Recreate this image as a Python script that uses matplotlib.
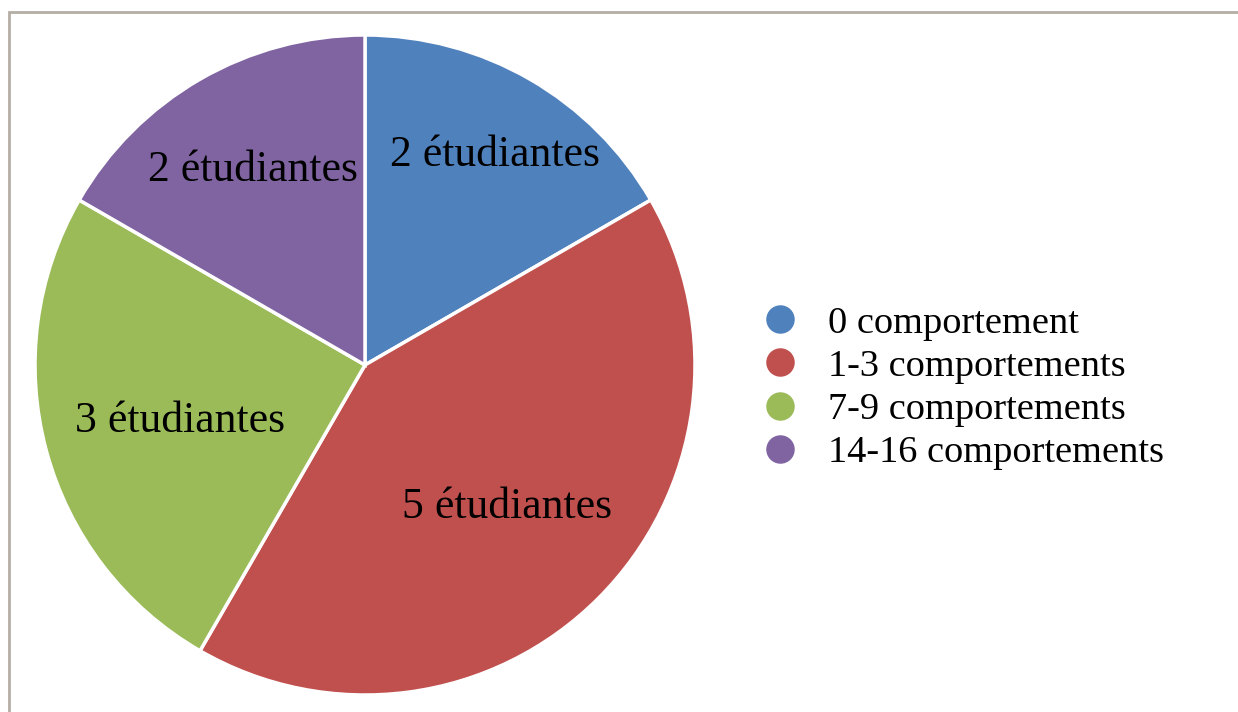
import matplotlib.pyplot as plt
from matplotlib.lines import Line2D
from matplotlib.patches import Rectangle

plt.rcParams['font.family'] = ['Liberation Serif', 'DejaVu Serif']

categories = ['0 comportement', '1-3 comportements', '7-9 comportements', '14-16 comportements']
counts = [2, 5, 3, 2]
labels = ['2 étudiantes', '5 étudiantes', '3 étudiantes', '2 étudiantes']
colors = ['#4F81BD', '#C0504D', '#9BBB59', '#8064A2']
# label positions in radius units
label_pos = [(0.394, 0.635), (0.430, -0.43), (-0.561, -0.17), (-0.339, 0.59)]

W, H = 1238, 712
fig = plt.figure(figsize=(W / 100, H / 100), dpi=100)
fig.patch.set_facecolor('white')

# outer gray frame (only top and left edges visible)
fig.patches.append(Rectangle((9 / W, -0.1), 1.2, 1 - 12 / H + 0.1, transform=fig.transFigure,
                             fill=False, edgecolor='#b5aea6', linewidth=2))

cx, cy, r = 365, 365, 330
ax = fig.add_axes([(cx - r) / W, 1 - (cy + r) / H, 2 * r / W, 2 * r / H])
ax.pie(counts, colors=colors, startangle=90, counterclock=False, radius=1,
       wedgeprops=dict(edgecolor='white', linewidth=2.5))
ax.set_xlim(-1, 1)
ax.set_ylim(-1, 1)
ax.set_aspect('equal')
ax.axis('off')

for lab, (x, y) in zip(labels, label_pos):
    ax.text(x, y, lab, ha='center', va='center', fontsize=31.5, color='black')

handles = [Line2D([], [], marker='o', linestyle='none', markersize=19.5,
                  markerfacecolor=c, markeredgecolor=c) for c in colors]
fig.legend(handles, categories, loc='center left', bbox_to_anchor=(742 / W, 1 - 388 / H),
           frameon=False, fontsize=27.6, handletextpad=0.75, labelspacing=0.22,
           borderpad=0, handlelength=1.0)

fig.savefig('out.png', dpi=100, facecolor='white')
